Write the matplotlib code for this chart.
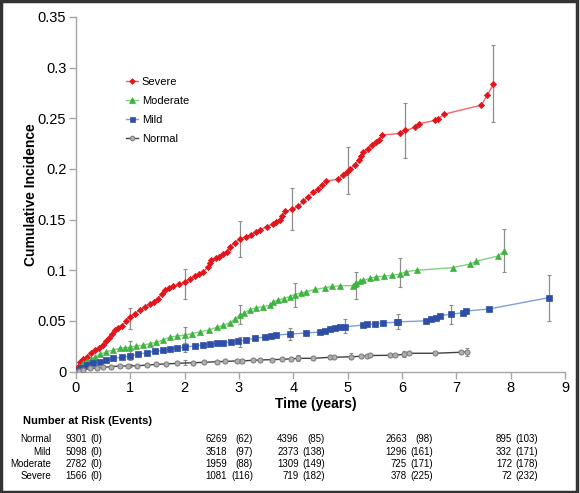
import numpy as np
import matplotlib
matplotlib.use('Agg')
import matplotlib.pyplot as plt
from matplotlib.ticker import FuncFormatter
from matplotlib.patches import Rectangle

plt.rcParams['font.family'] = ['Liberation Sans', 'DejaVu Sans']

# cumulative incidence curves (time in years, incidence)
sev_t = [0, 0.03, 0.07, 0.13, 0.2, 0.28, 0.35, 0.43, 0.5, 0.55, 0.6, 0.66, 0.72, 0.78, 0.84, 0.92, 0.99,
         1.08, 1.18, 1.27, 1.36, 1.44, 1.51, 1.58, 1.64, 1.72, 1.79, 1.9, 2.0, 2.1, 2.19, 2.27, 2.34, 2.43,
         2.46, 2.49, 2.57, 2.64, 2.7, 2.77, 2.83, 2.92, 3.02, 3.12, 3.23, 3.31, 3.39, 3.51, 3.63, 3.69,
         3.75, 3.8, 3.85, 3.97, 4.09, 4.18, 4.27, 4.37, 4.46, 4.52, 4.61, 4.83, 4.91, 4.98, 5.05, 5.13,
         5.2, 5.25, 5.29, 5.37, 5.45, 5.53, 5.58, 5.64, 5.96, 6.06, 6.24, 6.32, 6.61, 6.66, 6.77, 7.46,
         7.57, 7.68]
sev_y = [0, 0.004, 0.0097, 0.012, 0.0146, 0.018, 0.021, 0.023, 0.026, 0.030, 0.033, 0.037, 0.041, 0.043,
         0.045, 0.050, 0.054, 0.057, 0.061, 0.064, 0.067, 0.069, 0.072, 0.077, 0.080, 0.082, 0.084, 0.086,
         0.088, 0.091, 0.094, 0.096, 0.0985, 0.103, 0.107, 0.110, 0.112, 0.113, 0.116, 0.118, 0.123, 0.127,
         0.131, 0.133, 0.135, 0.138, 0.140, 0.143, 0.146, 0.148, 0.150, 0.154, 0.158, 0.160, 0.163, 0.168,
         0.1726, 0.177, 0.180, 0.184, 0.188, 0.190, 0.194, 0.197, 0.200, 0.204, 0.209, 0.213, 0.217, 0.220,
         0.224, 0.227, 0.229, 0.2335, 0.235, 0.238, 0.241, 0.2446, 0.248, 0.249, 0.254, 0.263, 0.273, 0.2835]

mod_t = [0, 0.05, 0.13, 0.2, 0.28, 0.35, 0.45, 0.56, 0.68, 0.81, 0.9, 0.99, 1.1, 1.24, 1.36, 1.48, 1.6,
         1.73, 1.86, 2.0, 2.14, 2.28, 2.44, 2.59, 2.7, 2.83, 2.93, 3.02, 3.1, 3.2, 3.32, 3.45, 3.57, 3.63,
         3.72, 3.82, 3.93, 4.03, 4.14, 4.24, 4.4, 4.58, 4.72, 4.86, 5.10, 5.13, 5.16, 5.22, 5.29, 5.41, 5.53,
         5.67, 5.81, 5.96, 6.07, 6.28, 6.93, 7.25, 7.37, 7.77, 7.88]
mod_y = [0, 0.004, 0.008, 0.010, 0.012, 0.0146, 0.017, 0.0196, 0.021, 0.023, 0.0235, 0.024, 0.025, 0.026,
         0.0275, 0.029, 0.031, 0.034, 0.035, 0.036, 0.0375, 0.039, 0.041, 0.0436, 0.0455, 0.048, 0.052,
         0.056, 0.058, 0.061, 0.063, 0.064, 0.0656, 0.069, 0.0705, 0.072, 0.074, 0.076, 0.0775, 0.0788,
         0.081, 0.0827, 0.084, 0.0847, 0.0847, 0.086, 0.087, 0.089, 0.090, 0.092, 0.0936, 0.094, 0.095,
         0.096, 0.0985, 0.100, 0.1025, 0.106, 0.109, 0.114, 0.119]

mild_t = [0, 0.05, 0.1, 0.2, 0.32, 0.44, 0.56, 0.69, 0.84, 0.99, 1.15, 1.3, 1.45, 1.61, 1.73, 1.85, 2.0,
          2.19, 2.33, 2.47, 2.6, 2.71, 2.85, 2.98, 3.12, 3.29, 3.48, 3.58, 3.69, 3.94, 4.24, 4.49, 4.58,
          4.67, 4.77, 4.86, 4.95, 5.29, 5.35, 5.51, 5.65, 5.9, 5.93, 6.45, 6.54, 6.62, 6.7, 6.91, 7.13,
          7.17, 7.6, 8.71]
mild_y = [0, 0.0015, 0.003, 0.0064, 0.008, 0.0097, 0.011, 0.013, 0.014, 0.0153, 0.017, 0.0186, 0.020,
          0.021, 0.022, 0.023, 0.024, 0.0255, 0.026, 0.027, 0.0277, 0.0284, 0.029, 0.030, 0.031, 0.0328,
          0.034, 0.035, 0.036, 0.037, 0.038, 0.039, 0.040, 0.042, 0.043, 0.044, 0.044, 0.046, 0.0465,
          0.047, 0.048, 0.0486, 0.049, 0.050, 0.052, 0.053, 0.055, 0.0567, 0.058, 0.0597, 0.0617, 0.073]

norm_t = [0, 0.05, 0.12, 0.26, 0.38, 0.5, 0.65, 0.81, 0.96, 1.12, 1.3, 1.48, 1.65, 1.85, 2.16, 2.35, 2.59,
          2.75, 2.96, 3.05, 3.25, 3.39, 3.6, 3.79, 3.95, 4.09, 4.37, 4.67, 4.75, 5.07, 5.25, 5.35, 5.42,
          5.78, 5.87, 6.04, 6.13, 6.61, 7.08, 7.2]
norm_y = [0, 0.0008, 0.0015, 0.003, 0.0035, 0.004, 0.0048, 0.0054, 0.0055, 0.0057, 0.0063, 0.007, 0.0075,
          0.008, 0.0087, 0.009, 0.0097, 0.010, 0.0104, 0.0105, 0.011, 0.0114, 0.0117, 0.012, 0.0125, 0.013,
          0.013, 0.014, 0.014, 0.0146, 0.015, 0.0156, 0.0158, 0.016, 0.016, 0.017, 0.018, 0.018, 0.019, 0.0195]

# confidence intervals (time, lower, upper)
sev_ci_t = [1.0, 2.0, 3.02, 3.97, 5.0, 6.06, 7.68]
sev_ci_lo = [0.042, 0.072, 0.113, 0.140, 0.175, 0.211, 0.246]
sev_ci_hi = [0.063, 0.101, 0.149, 0.181, 0.222, 0.265, 0.322]
mod_ci_t = [1.0, 2.0, 3.02, 4.03, 5.16, 5.96, 7.88]
mod_ci_lo = [0.017, 0.028, 0.047, 0.064, 0.072, 0.083, 0.0985]
mod_ci_hi = [0.030, 0.044, 0.066, 0.087, 0.098, 0.112, 0.141]
mild_ci_t = [1.0, 2.0, 3.02, 3.94, 4.95, 5.93, 6.91, 8.71]
mild_ci_lo = [0.011, 0.0196, 0.0245, 0.031, 0.038, 0.042, 0.047, 0.050]
mild_ci_hi = [0.020, 0.028, 0.034, 0.043, 0.052, 0.057, 0.066, 0.095]
norm_ci_t = [1.0, 2.0, 3.05, 4.09, 5.07, 6.04, 7.2]
norm_ci_lo = [0.004, 0.0065, 0.008, 0.010, 0.012, 0.014, 0.015]
norm_ci_hi = [0.0075, 0.011, 0.0125, 0.016, 0.018, 0.020, 0.0235]

# number at risk table
risk_groups = ['Normal', 'Mild', 'Moderate', 'Severe']
risk_n = [[9301, 6269, 4396, 2663, 895],
          [5098, 3518, 2373, 1296, 332],
          [2782, 1959, 1309, 725, 172],
          [1566, 1081, 719, 378, 72]]
risk_ev = [[0, 62, 85, 98, 103],
           [0, 97, 138, 161, 171],
           [0, 88, 149, 171, 178],
           [0, 116, 182, 225, 232]]

W, H = 580, 493
fig = plt.figure(figsize=(5.8, 4.93), dpi=100)
ax = fig.add_axes([76 / W, 1 - 371.5 / H, 489 / W, 354.5 / H])

def px(x, y):
    return x / W, 1 - y / H

series = [
    ('Severe', sev_t, sev_y, 'D', '#e3141b', '#f0656a', 3.2, sev_ci_t, sev_ci_lo, sev_ci_hi),
    ('Moderate', mod_t, mod_y, '^', '#3fb33f', '#7fd27f', 4.2, mod_ci_t, mod_ci_lo, mod_ci_hi),
    ('Mild', mild_t, mild_y, 's', '#2f4fa6', '#7f9ee0', 4.0, mild_ci_t, mild_ci_lo, mild_ci_hi),
    ('Normal', norm_t, norm_y, 'o', '#808080', '#404040', 3.6, norm_ci_t, norm_ci_lo, norm_ci_hi),
]

for name, t, y, mk, mc, lc, ms, ct, clo, chi in series:
    t = np.array(t); y = np.array(y)
    ct = np.array(ct); clo = np.array(clo); chi = np.array(chi)
    mid = np.interp(ct, t, y)
    ax.errorbar(ct, mid, yerr=[mid - clo, chi - mid], fmt='none', ecolor='#8c8c8c',
                elinewidth=0.9, capsize=1.5, capthick=0.8, zorder=2)
    if mk == 'o':
        ax.plot(t, y, color=lc, lw=1.0, marker=mk, ms=ms, mfc='#b0b0b0', mec=mc, mew=0.8,
                label=name, zorder=3)
    else:
        ax.plot(t, y, color=lc, lw=1.0, marker=mk, ms=ms, mfc=mc, mec=mc, mew=0.5,
                label=name, zorder=3)

ax.set_xlim(0, 9)
ax.set_ylim(0, 0.35)
ax.set_xticks(range(0, 10))
ax.set_yticks(np.arange(0, 0.351, 0.05))
ax.yaxis.set_major_formatter(FuncFormatter(lambda v, p: '%g' % round(v, 2)))
for s in ['top', 'right']:
    ax.spines[s].set_visible(False)
for s in ['left', 'bottom']:
    ax.spines[s].set_color('#a6a6a6')
    ax.spines[s].set_linewidth(1.0)
ax.tick_params(axis='both', colors='#a6a6a6', labelcolor='black', labelsize=10.5, length=5, width=1)
ax.tick_params(axis='x', pad=2)
ax.tick_params(axis='y', pad=2)

ax.set_ylabel('Cumulative Incidence', fontsize=10, fontweight='bold')
ax.yaxis.set_label_coords(-0.078, 0.5)

leg = ax.legend(loc='upper left', bbox_to_anchor=(0.094, 0.843), frameon=False, fontsize=8,
                handlelength=1.0, handletextpad=0.4, labelspacing=0.8, markerscale=0.9,
                borderaxespad=0)

fig.text(*px(316, 404), 'Time (years)', fontsize=10, fontweight='bold', ha='center', va='center')
fig.text(*px(23, 421), 'Number at Risk (Events)', fontsize=8, fontweight='bold', ha='left', va='center')

row_y = [439, 452, 464, 476]
num_right = [87, 227, 299, 407, 512]
ev_right = [102, 253, 325, 433, 538]
for i, g in enumerate(risk_groups):
    fig.text(*px(51, row_y[i]), g, fontsize=7, ha='right', va='center')
    for j in range(5):
        fig.text(*px(num_right[j], row_y[i]), str(risk_n[i][j]), fontsize=7, ha='right', va='center')
        fig.text(*px(ev_right[j], row_y[i]), '(%d)' % risk_ev[i][j], fontsize=7, ha='right', va='center')

fig.patches.append(Rectangle((0.002, 0.003), 0.993, 0.994, transform=fig.transFigure, fill=False,
                             edgecolor='#333333', linewidth=2.5))

fig.savefig('out.png', dpi=100)
